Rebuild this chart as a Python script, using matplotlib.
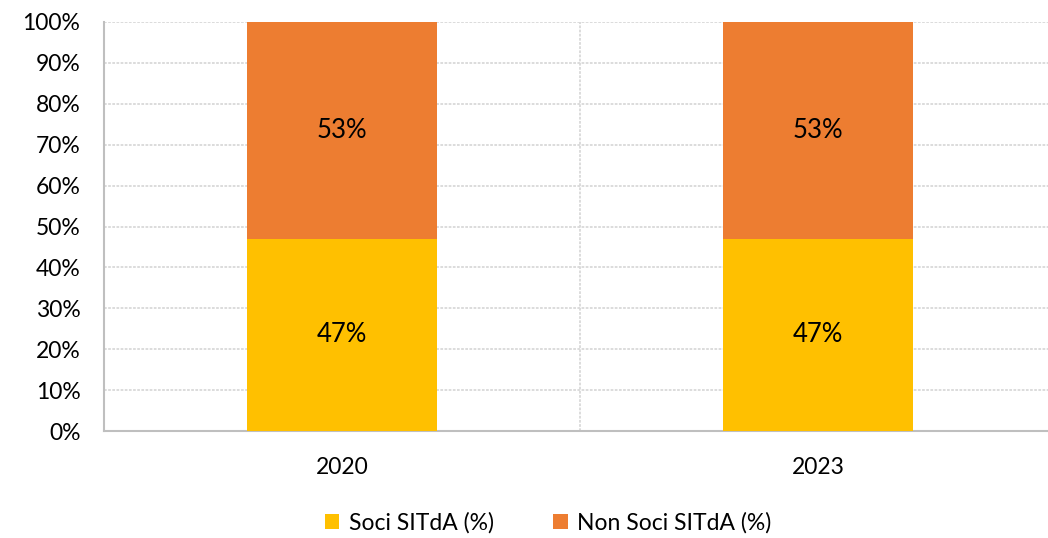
import matplotlib.pyplot as plt
import numpy as np

# Data
years = ["2020", "2023"]
soci = [47, 47]
non_soci = [53, 53]
series_names = ["Soci SITdA (%)", "Non Soci SITdA (%)"]
yticks = [0, 10, 20, 30, 40, 50, 60, 70, 80, 90, 100]

col_soci = "#FFC000"
col_non = "#ED7D31"

plt.rcParams['font.family'] = ['Lato', 'DejaVu Sans']

fig = plt.figure(figsize=(10.48, 5.38), dpi=100)
# right side of the plot area runs past the figure edge, like the reference
ax = fig.add_axes([104 / 1048, 107 / 538, 952 / 1048, 409 / 538])

x = np.arange(len(years))
b1 = ax.bar(x, soci, width=0.4, color=col_soci, label=series_names[0], zorder=3)
b2 = ax.bar(x, non_soci, width=0.4, bottom=soci, color=col_non, label=series_names[1], zorder=3)

for i in range(len(years)):
    ax.text(x[i], soci[i] / 2, f"{soci[i]}%", ha="center", va="center", fontsize=18.5, zorder=4)
    ax.text(x[i], soci[i] + non_soci[i] / 2, f"{non_soci[i]}%", ha="center", va="center", fontsize=18.5, zorder=4)

ax.set_xlim(-0.5, 1.5)
ax.set_ylim(0, 100)
ax.set_yticks(yticks)
ax.set_yticklabels([f"{v}%" for v in yticks], fontsize=16.5)
ax.set_xticks(x)
ax.set_xticklabels(years, fontsize=16.5)
ax.set_xticks([0.5], minor=True)
ax.tick_params(axis="both", length=0)
ax.tick_params(axis="y", pad=17)
ax.tick_params(axis="x", which="minor", length=0)
ax.tick_params(axis="x", pad=19)

ax.yaxis.grid(True, color="#d9d9d9", linestyle=(0, (1.5, 0.8)), linewidth=1.3, zorder=0)
ax.xaxis.grid(True, which="minor", color="#d9d9d9", linestyle=(0, (1.5, 0.8)), linewidth=1.3, zorder=0)

for s in ["top", "right"]:
    ax.spines[s].set_visible(False)
ax.spines["left"].set_color("#bfbfbf")
ax.spines["left"].set_linewidth(1.5)
ax.spines["bottom"].set_color("#bfbfbf")
ax.spines["bottom"].set_linewidth(1.5)

fig.legend(handles=[b1, b2], loc="center", bbox_to_anchor=(548 / 1048, 1 - 523 / 538),
           ncol=2, frameon=False, fontsize=16.5, handlelength=0.65, handleheight=0.65,
           handletextpad=0.4, columnspacing=2.6)

fig.savefig("out.png", dpi=100)
